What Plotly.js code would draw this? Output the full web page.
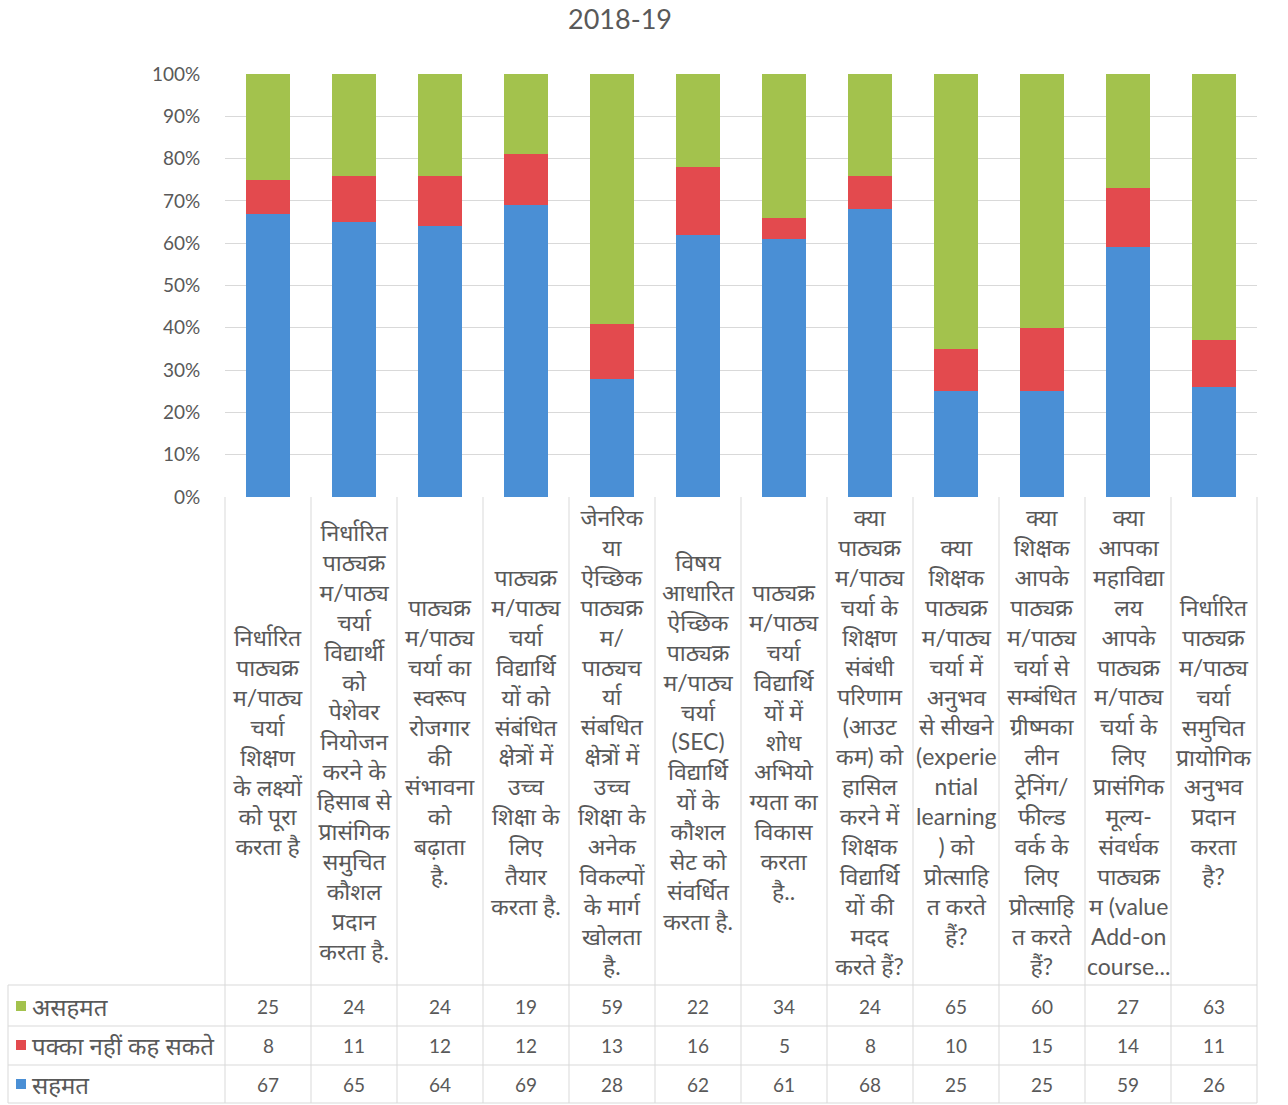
<!DOCTYPE html>
<html>
<head>
<meta charset="utf-8">
<script src="https://cdn.plot.ly/plotly-3.0.1.min.js"></script>
<style>html,body{margin:0;padding:0;background:#fff;}#chart{width:1288px;height:1105px;}</style>
</head>
<body>
<div id="chart"></div>
<script>
const categories = [
  "निर्धारित<br>पाठ्यक्र<br>म/पाठ्य<br>चर्या<br>शिक्षण<br>के लक्ष्यों<br>को पूरा<br>करता है",
  "निर्धारित<br>पाठ्यक्र<br>म/पाठ्य<br>चर्या<br>विद्यार्थी<br>को<br>पेशेवर<br>नियोजन<br>करने के<br>हिसाब से<br>प्रासंगिक<br>समुचित<br>कौशल<br>प्रदान<br>करता है.",
  "पाठ्यक्र<br>म/पाठ्य<br>चर्या का<br>स्वरूप<br>रोजगार<br>की<br>संभावना<br>को<br>बढ़ाता<br>है.",
  "पाठ्यक्र<br>म/पाठ्य<br>चर्या<br>विद्यार्थि<br>यों को<br>संबंधित<br>क्षेत्रों में<br>उच्च<br>शिक्षा के<br>लिए<br>तैयार<br>करता है.",
  "जेनरिक<br>या<br>ऐच्छिक<br>पाठ्यक्र<br>म/<br>पाठ्यच<br>र्या<br>संबधित<br>क्षेत्रों में<br>उच्च<br>शिक्षा के<br>अनेक<br>विकल्पों<br>के मार्ग<br>खोलता<br>है.",
  "विषय<br>आधारित<br>ऐच्छिक<br>पाठ्यक्र<br>म/पाठ्य<br>चर्या<br>(SEC)<br>विद्यार्थि<br>यों के<br>कौशल<br>सेट को<br>संवर्धित<br>करता है.",
  "पाठ्यक्र<br>म/पाठ्य<br>चर्या<br>विद्यार्थि<br>यों में<br>शोध<br>अभियो<br>ग्यता का<br>विकास<br>करता<br>है..",
  "क्या<br>पाठ्यक्र<br>म/पाठ्य<br>चर्या के<br>शिक्षण<br>संबंधी<br>परिणाम<br>(आउट<br>कम) को<br>हासिल<br>करने में<br>शिक्षक<br>विद्यार्थि<br>यों की<br>मदद<br>करते हैं?",
  "क्या<br>शिक्षक<br>पाठ्यक्र<br>म/पाठ्य<br>चर्या में<br>अनुभव<br>से सीखने<br>(experie<br>ntial<br>learning<br>) को<br>प्रोत्साहि<br>त करते<br>हैं?",
  "क्या<br>शिक्षक<br>आपके<br>पाठ्यक्र<br>म/पाठ्य<br>चर्या से<br>सम्बंधित<br>ग्रीष्मका<br>लीन<br>ट्रेनिंग/<br>फील्ड<br>वर्क के<br>लिए<br>प्रोत्साहि<br>त करते<br>हैं?",
  "क्या<br>आपका<br>महाविद्या<br>लय<br>आपके<br>पाठ्यक्र<br>म/पाठ्य<br>चर्या के<br>लिए<br>प्रासंगिक<br>मूल्य-<br>संवर्धक<br>पाठ्यक्र<br>म (value<br>Add-on<br>course...",
  "निर्धारित<br>पाठ्यक्र<br>म/पाठ्य<br>चर्या<br>समुचित<br>प्रायोगिक<br>अनुभव<br>प्रदान<br>करता<br>है?"
];
const seriesNames = ["असहमत", "पक्का नहीं कह सकते", "सहमत"];
const disagree = [25, 24, 24, 19, 59, 22, 34, 24, 65, 60, 27, 63];
const unsure   = [8, 11, 12, 12, 13, 16, 5, 8, 10, 15, 14, 11];
const agree    = [67, 65, 64, 69, 28, 62, 61, 68, 25, 25, 59, 26];
const titleText = "2018-19";

const colors = {agree: "#4A8FD5", unsure: "#E34A4E", disagree: "#A3C24D"};
const W = 1288, H = 1105;
const L = 225, R = 1257, T = 74, B = 497;
const pw = R - L, ph = B - T;
const px2x = p => (p - L) / pw;
const py2y = p => (B - p) / ph;
const idx = categories.map((c, i) => i);

const traces = [
  {name: seriesNames[2], y: agree, color: colors.agree},
  {name: seriesNames[1], y: unsure, color: colors.unsure},
  {name: seriesNames[0], y: disagree, color: colors.disagree}
].map(s => ({type: "bar", x: idx, y: s.y, name: s.name, marker: {color: s.color}, hoverinfo: "y+name"}));

const gray = "#595959";
const grid = "#D9D9D9";
const annotations = [];
const shapes = [];

// category labels
categories.forEach((c, i) => {
  annotations.push({xref: "x", yref: "paper", x: i, y: py2y(741), text: c, showarrow: false,
    xanchor: "center", yanchor: "middle", align: "center",
    font: {family: "Lato, Noto Sans, sans-serif", size: 23, color: gray}});
});

// data table rows (order: disagree, unsure, agree)
const rows = [
  {name: seriesNames[0], vals: disagree, color: colors.disagree, yc: 1006},
  {name: seriesNames[1], vals: unsure, color: colors.unsure, yc: 1045},
  {name: seriesNames[2], vals: agree, color: colors.agree, yc: 1084}
];
rows.forEach(r => {
  shapes.push({type: "rect", xref: "paper", yref: "paper", x0: px2x(16), x1: px2x(26), y0: py2y(r.yc + 5), y1: py2y(r.yc - 5),
    fillcolor: r.color, line: {width: 0}});
  annotations.push({xref: "paper", yref: "paper", x: px2x(30), y: py2y(r.yc), xanchor: "left", yanchor: "middle",
    showarrow: false, text: r.name,
    font: {family: "Noto Sans, sans-serif", size: 24, color: gray}});
  r.vals.forEach((v, i) => {
    annotations.push({xref: "x", yref: "paper", x: i, y: py2y(r.yc), xanchor: "center", yanchor: "middle",
      showarrow: false, text: String(v), font: {family: "Lato, sans-serif", size: 19, color: gray}});
  });
});

// table grid lines
const lineStyle = {color: grid, width: 1};
const rowLines = [985, 1026, 1065, 1103];
rowLines.forEach(yp => shapes.push({type: "line", xref: "paper", yref: "paper", x0: px2x(8), x1: 1, y0: py2y(yp), y1: py2y(yp), line: lineStyle}));
for (let k = 0; k <= categories.length; k++) {
  const xp = L + k * pw / categories.length;
  shapes.push({type: "line", xref: "paper", yref: "paper", x0: px2x(xp), x1: px2x(xp), y0: 0, y1: py2y(1103), line: lineStyle});
}
shapes.push({type: "line", xref: "paper", yref: "paper", x0: px2x(8), x1: px2x(8), y0: py2y(985), y1: py2y(1103), line: lineStyle});

const layout = {
  width: W, height: H,
  margin: {l: L, r: W - R, t: T, b: H - B, pad: 0},
  paper_bgcolor: "#fff", plot_bgcolor: "#fff",
  barmode: "stack", barnorm: "percent", bargap: 0.48,
  showlegend: false,
  title: {text: titleText, x: 620 / W, xref: "container", xanchor: "center", y: 1 - 20 / H, yref: "container", yanchor: "middle",
    font: {family: "Lato, sans-serif", size: 27, color: gray}},
  xaxis: {type: "linear", range: [-0.5, categories.length - 0.5], showticklabels: false, showgrid: false, zeroline: false,
    showline: false, fixedrange: true},
  yaxis: {range: [0, 100], dtick: 10, ticksuffix: "%", showgrid: true, gridcolor: grid, gridwidth: 1, zeroline: false,
    ticks: "outside", ticklen: 20, tickcolor: "rgba(0,0,0,0)", showline: false,
    tickfont: {family: "Lato, sans-serif", size: 19, color: gray}, fixedrange: true},
  annotations: annotations,
  shapes: shapes
};

Plotly.newPlot("chart", traces, layout, {displayModeBar: false, staticPlot: true});
</script>
</body>
</html>
